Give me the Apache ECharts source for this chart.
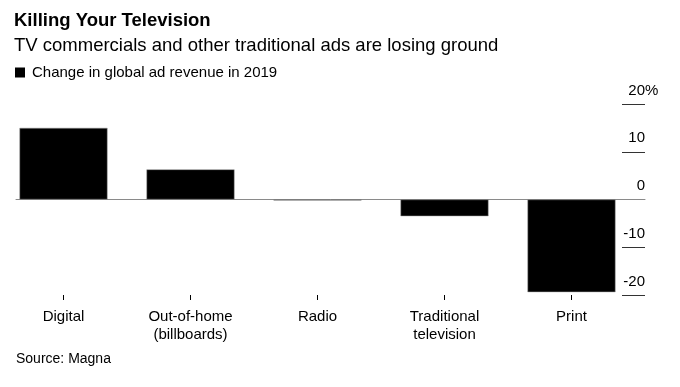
<!DOCTYPE html>
<html>
<head>
<meta charset="utf-8">
<script src="https://cdn.jsdelivr.net/npm/echarts@6/dist/echarts.min.js"></script>
<style>
  html, body { margin: 0; padding: 0; background: #fff; }
  #chart { width: 680px; height: 387px; }
</style>
</head>
<body>
<div id="chart"></div>
<script>
const categories = ['Digital', 'Out-of-home\n(billboards)', 'Radio', 'Traditional\ntelevision', 'Print'];
const changeValues = [15, 6.3, -0.2, -3.5, -19.4];
const yTicks = [-20, -10, 0, 10, 20];
const seriesName = 'Change in global ad revenue in 2019';

const FONT = 'Liberation Sans';
const chart = echarts.init(document.getElementById('chart'), null, { renderer: 'canvas' });

const yMin = yTicks[0], yMax = yTicks[yTicks.length - 1], yStep = yTicks[1] - yTicks[0];
const gridTop = 104, gridBottom = 92;

chart.setOption({
  animation: false,
  backgroundColor: '#fff',
  textStyle: { fontFamily: FONT },
  title: [
    { text: 'Killing Your Television', left: 14, top: 11, padding: 0,
      textStyle: { fontFamily: FONT, fontSize: 18.5, fontWeight: 'bold', color: '#000' } },
    { text: 'TV commercials and other traditional ads are losing ground', left: 14, top: 36, padding: 0,
      textStyle: { fontFamily: FONT, fontSize: 18.5, fontWeight: 'normal', color: '#000' } },
    { text: 'Source: Magna', left: 16, top: 352, padding: 0,
      textStyle: { fontFamily: FONT, fontSize: 14, fontWeight: 'normal', color: '#000' } }
  ],
  legend: {
    left: 15, top: 65, itemWidth: 10, itemHeight: 10, itemGap: 6,
    icon: 'rect', padding: 0,
    itemStyle: { borderWidth: 0 },
    textStyle: { fontFamily: FONT, fontSize: 15, color: '#000', padding: [0, 0, 0, 2] },
    data: [seriesName]
  },
  grid: [
    { left: -3, right: 45, top: gridTop, bottom: gridBottom },
    { left: 16, right: 35, top: gridTop, bottom: gridBottom },
    { left: 622, right: 35, top: gridTop, bottom: gridBottom }
  ],
  xAxis: [
    { gridIndex: 0, type: 'category', data: categories, position: 'bottom',
      axisLine: { show: false, onZero: false },
      axisTick: { show: true, alignWithLabel: true, length: 5, lineStyle: { color: '#000', width: 1 } },
      axisLabel: { margin: 13, fontFamily: FONT, fontSize: 15, color: '#000', lineHeight: 18 },
      splitLine: { show: false } },
    { gridIndex: 1, type: 'value', min: 0, max: 1,
      axisLine: { show: true, onZero: true, lineStyle: { color: '#8a8a8a', width: 1 } },
      axisTick: { show: false }, axisLabel: { show: false }, splitLine: { show: false } },
    { gridIndex: 2, type: 'value', min: 0, max: 1, show: false }
  ],
  yAxis: [
    { gridIndex: 0, type: 'value', min: yMin, max: yMax, interval: yStep, show: false },
    { gridIndex: 1, type: 'value', min: yMin, max: yMax, interval: yStep,
      axisLine: { show: false }, axisTick: { show: false }, axisLabel: { show: false }, splitLine: { show: false } },
    { gridIndex: 2, type: 'value', min: yMin, max: yMax, interval: yStep, position: 'right',
      axisLine: { show: false }, axisTick: { show: false },
      splitLine: { show: true, lineStyle: { color: '#333', width: 1 } },
      axisLabel: {
        inside: true, margin: 24, align: 'left', verticalAlign: 'bottom', padding: [0, 0, 6, 0],
        fontFamily: FONT, fontSize: 15, color: '#000',
        formatter: v => '{n|' + v + '}' + (v === yMax ? '{p|%}' : ''),
        rich: {
          n: { width: 24, align: 'right', fontFamily: FONT, fontSize: 15, color: '#000' },
          p: { align: 'right', fontFamily: FONT, fontSize: 15, color: '#000' }
        }
      } }
  ],
  series: [
    { name: seriesName, type: 'bar', xAxisIndex: 0, yAxisIndex: 0,
      data: changeValues, barWidth: 88,
      itemStyle: { color: '#000', borderColor: '#9a9a9a', borderWidth: 0.5 } }
  ]
});
</script>
</body>
</html>
